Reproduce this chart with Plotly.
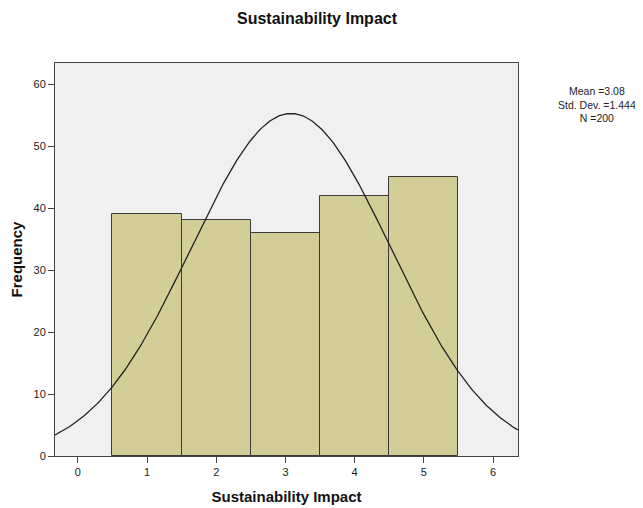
import numpy as np
import plotly.graph_objects as go

categories = [1, 2, 3, 4, 5]
frequencies = [39, 38, 36, 42, 45]
mean_val = 3.08
std_val = 1.444
n_val = 200

# normal curve scaled to counts (bin width 1)
xc = np.linspace(-0.33, 6.36, 300)
yc = n_val * 1.0 / (std_val * np.sqrt(2 * np.pi)) * np.exp(-0.5 * ((xc - mean_val) / std_val) ** 2)

fig = go.Figure()
fig.add_trace(go.Bar(
    x=categories, y=frequencies, width=1.0,
    marker=dict(color="#D3CE98", line=dict(color="#3a3a3a", width=1)),
    hoverinfo="x+y", showlegend=False,
))
fig.add_trace(go.Scatter(
    x=xc, y=yc, mode="lines", line=dict(color="#222222", width=1.3),
    showlegend=False, hoverinfo="skip",
))

W, H = 635, 500
fig.update_layout(
    width=W, height=H,
    margin=dict(l=47, r=125, t=55, b=52, autoexpand=False),
    paper_bgcolor="white", plot_bgcolor="#F0F0F0",
    font=dict(family="Liberation Sans, Arial, sans-serif", color="#222"),
    title=dict(text="<b>Sustainability Impact</b>", x=309 / W, xanchor="center",
               yref="container", y=1 - 10 / H, yanchor="middle",
               font=dict(size=16, color="#111")),
    bargap=0,
)
fig.update_xaxes(
    range=[-0.33, 6.36], tickmode="array", tickvals=[0, 1, 2, 3, 4, 5, 6],
    ticks="outside", ticklen=6, tickcolor="#444", showgrid=False, zeroline=False,
    showline=True, linecolor="#444", linewidth=1, mirror=True, automargin=False,
    tickfont=dict(size=11, color="#222"),
    title=dict(text="<b>Sustainability Impact</b>", font=dict(size=15, color="#111"), standoff=14),
)
fig.update_yaxes(
    range=[0, 63.4], tickmode="array", tickvals=[0, 10, 20, 30, 40, 50, 60],
    ticks="outside", ticklen=6, tickcolor="#444", showgrid=False, zeroline=False,
    showline=True, linecolor="#444", linewidth=1, mirror=True, automargin=False,
    tickfont=dict(size=11, color="#222"),
    title=dict(text="<b>Frequency</b>", font=dict(size=15, color="#111"), standoff=8),
)
fig.add_annotation(
    xref="paper", yref="paper", x=1.0 + (589 - 510) / 463, y=(448 - 97) / 393,
    text=f"Mean ={mean_val:.2f}<br>Std. Dev. ={std_val:.3f}<br>N ={n_val}",
    showarrow=False, xanchor="center", yanchor="middle", align="center",
    font=dict(size=10.5, color="#222"),
)
fig.write_html("out.html")
